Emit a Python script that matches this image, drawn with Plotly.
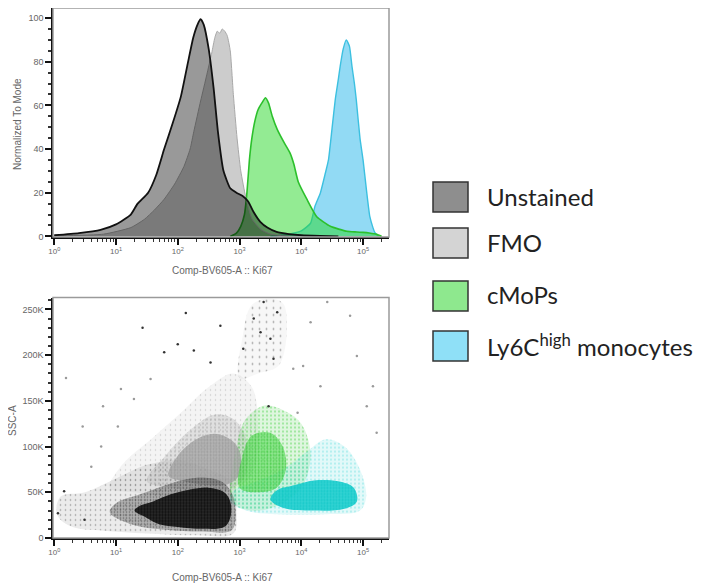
import plotly.graph_objects as go

# page body adds an 8px margin, so the figure is drawn 8px smaller and offset
PAGE_W, PAGE_H, BODY_M = 703, 588, 8
W, H = PAGE_W - BODY_M, PAGE_H - BODY_M

# ---------------- Histogram data (log10 intensity, % of mode) ----------------
UNST_LOG = [0.0, 0.4, 0.75, 1.0, 1.24, 1.35, 1.52, 1.65, 1.78, 1.92, 2.05, 2.16, 2.25, 2.32, 2.37,
            2.42, 2.5, 2.58, 2.65, 2.74, 2.85, 2.95, 3.05, 3.14, 3.23, 3.34, 3.45, 3.6, 3.8, 4.0, 4.3, 4.6]
UNST_PCT = [0.5, 1.5, 3.0, 5.5, 10, 15, 20, 28, 40, 52, 64, 79, 91, 97, 99.5,
            97, 86, 68, 48, 30, 22, 20, 18.5, 16, 11, 6.5, 4, 2, 1, 0.5, 0.2, 0]

FMO_LOG = [0.0, 0.8, 1.24, 1.46, 1.62, 1.78, 1.95, 2.1, 2.2, 2.26, 2.37, 2.47, 2.55, 2.6, 2.64,
           2.68, 2.72, 2.76, 2.8, 2.85, 2.9, 2.96, 3.02, 3.1, 3.2, 3.35, 3.5, 3.8]
FMO_PCT = [0.2, 1, 4, 7.8, 12, 17, 24, 32, 40, 48, 62, 74, 84, 91, 94,
           93, 95, 94, 92, 85, 65, 45, 30, 18, 8, 3, 1, 0]

CMOP_LOG = [2.85, 2.95, 3.02, 3.08, 3.12, 3.16, 3.2, 3.25, 3.3, 3.36, 3.42, 3.47, 3.53, 3.61, 3.72,
            3.82, 3.88, 3.95, 4.09, 4.25, 4.47, 4.74, 4.9, 5.0, 5.1, 5.22, 5.3]
CMOP_PCT = [0, 1.5, 4.6, 10, 20, 35, 45, 53, 58, 61, 63.5, 61, 55, 49, 43,
            38, 33, 25, 17, 9, 4.6, 2.3, 2, 1.8, 1.5, 0.9, 0]

LY6C_LOG = [3.5, 3.8, 4.0, 4.15, 4.22, 4.31, 4.39, 4.44, 4.5, 4.55, 4.6, 4.63, 4.68, 4.73, 4.78,
            4.82, 4.86, 4.89, 4.95, 5.0, 5.06, 5.11, 5.16, 5.19, 5.25]
LY6C_PCT = [0, 1, 2.5, 6, 13.7, 20, 29, 35, 50, 62.6, 72, 78, 86, 90, 87,
            78, 70, 62.6, 45, 35, 20, 9, 4, 1.8, 0]

# ---------------- Dot-plot density regions (log10 Ki67, SSC-A in K) ----------------
UNST_HALO_LOG = [0.05, 0.3, 0.8, 1.5, 2.3, 2.9, 2.95, 2.9, 2.5, 2.0, 1.5, 1.0, 0.5, 0.1]
UNST_HALO_SSC = [25, 12, 8, 5, 3, 5, 30, 60, 75, 85, 80, 65, 50, 45]
UNST_MID_LOG = [0.9, 1.3, 1.8, 2.4, 2.88, 2.9, 2.7, 2.3, 1.9, 1.4, 1.0]
UNST_MID_SSC = [28, 14, 9, 7, 9, 45, 62, 66, 60, 48, 38]
UNST_CORE_LOG = [1.3, 1.5, 1.7, 2.0, 2.4, 2.75, 2.85, 2.85, 2.75, 2.5, 2.2, 1.9, 1.6, 1.38]
UNST_CORE_SSC = [30, 22, 15, 12, 10, 12, 22, 40, 50, 55, 53, 48, 40, 35]

FMO_HALO_LOG = [0.9, 1.3, 2.0, 2.8, 3.2, 3.3, 3.2, 2.9, 2.5, 2.1, 1.6, 1.1]
FMO_HALO_SSC = [55, 50, 45, 50, 70, 120, 165, 180, 165, 140, 110, 80]
FMO_MID_LOG = [1.5, 1.9, 2.4, 2.9, 3.1, 3.1, 2.9, 2.6, 2.2, 1.8]
FMO_MID_SSC = [62, 55, 52, 55, 70, 110, 130, 135, 118, 90]
FMO_CORE_LOG = [1.85, 2.1, 2.45, 2.85, 3.0, 3.0, 2.85, 2.6, 2.3, 2.0]
FMO_CORE_SSC = [68, 62, 58, 60, 70, 95, 108, 114, 108, 90]
FMO_TOP_LOG = [3.0, 3.3, 3.65, 3.72, 3.5, 3.2, 3.05]
FMO_TOP_SSC = [175, 180, 190, 255, 262, 255, 220]

CMOP_HALO_LOG = [2.88, 3.2, 3.6, 4.0, 4.15, 4.0, 3.7, 3.4, 3.1, 2.95]
CMOP_HALO_SSC = [40, 30, 35, 55, 90, 125, 140, 145, 130, 100]
CMOP_CORE_LOG = [3.0, 3.3, 3.6, 3.75, 3.7, 3.5, 3.2, 3.05]
CMOP_CORE_SSC = [55, 50, 55, 75, 100, 115, 112, 90]

LY6C_HALO_LOG = [2.85, 3.1, 3.6, 4.4, 4.95, 5.05, 4.95, 4.7, 4.4, 4.1, 3.7, 3.2, 2.9]
LY6C_HALO_SSC = [40, 30, 26, 26, 30, 45, 75, 100, 108, 95, 75, 60, 52]
LY6C_CORE_LOG = [3.5, 3.7, 4.2, 4.7, 4.9, 4.85, 4.6, 4.2, 3.9, 3.6]
LY6C_CORE_SSC = [42, 33, 30, 32, 40, 55, 62, 63, 58, 52]

# scattered single events
OUT_DARK_LOG = [2.13, 1.43, 2.0, 1.78, 2.26, 2.53, 2.69, 3.39, 3.61, 3.34, 3.5, 3.23, 3.06, 3.55,
                0.16, 0.06, 0.49, 3.47]
OUT_DARK_SSC = [246, 230, 212, 203, 205, 192, 232, 258, 247, 225, 218, 240, 207, 196,
                51, 27, 20, 144]
OUT_LIGHT_LOG = [0.19, 1.08, 0.79, 0.46, 1.56, 1.29, 1.03, 0.76, 0.6, 4.15, 4.42, 4.79, 4.03,
                 3.87, 4.31, 4.9, 5.16, 5.22, 5.06, 3.94]
OUT_LIGHT_SSC = [175, 163, 144, 122, 174, 152, 122, 100, 78, 236, 258, 243, 188,
                 185, 166, 199, 166, 115, 144, 137]

# ---------------- Axis ticks ----------------
X_TICK_EXP = [0, 1, 2, 3, 4, 5]
Y1_TICKS = [0, 20, 40, 60, 80, 100]
Y2_TICKS = [0, 50000, 100000, 150000, 200000, 250000]
Y2_TICK_TEXT = ["0", "50K", "100K", "150K", "200K", "250K"]

LEGEND_NAMES = ["Unstained", "FMO", "cMoPs", "Ly6C<sup>high</sup> monocytes"]
LEGEND_COLORS = ["#8e8e8e", "#d4d4d4", "#8ee88e", "#8fe0f7"]


def lin(v):
    return [10 ** e for e in v]


def kk(v):
    return [s * 1000 for s in v]


fig = go.Figure()

# ---------- top: overlaid histograms ----------
hist_specs = [
    (LY6C_LOG, LY6C_PCT, "rgba(110,205,240,0.75)", "#3cc0e0", 1.4),
    (CMOP_LOG, CMOP_PCT, "rgba(40,215,40,0.5)", "#2cc02c", 1.6),
    (FMO_LOG, FMO_PCT, "rgba(0,0,0,0.2)", "#a8a8a8", 1.0),
    (UNST_LOG, UNST_PCT, "rgba(0,0,0,0.4)", "#111111", 1.8),
]
for lg, pc, fc, lc, lw in hist_specs:
    fig.add_trace(go.Scatter(x=lin(lg), y=pc, mode="lines", fill="tozeroy",
                             fillcolor=fc, line=dict(color=lc, width=lw, shape="spline", smoothing=0.5),
                             xaxis="x", yaxis="y", showlegend=False, hoverinfo="skip"))


# ---------- bottom: dot plot as density regions ----------
def region(lg, ssc, color, size, solidity, fillcolor):
    pat = dict(shape=".", fgcolor=color, size=size, solidity=solidity, fillmode="overlay")
    fig.add_trace(go.Scatter(x=lin(lg + lg[:1]), y=kk(ssc + ssc[:1]), mode="lines", fill="toself",
                             fillcolor=fillcolor, fillpattern=pat,
                             line=dict(width=0, color="rgba(0,0,0,0)", shape="spline", smoothing=1.0),
                             xaxis="x2", yaxis="y2", showlegend=False, hoverinfo="skip"))


region(FMO_HALO_LOG, FMO_HALO_SSC, "#9a9a9a", 5, 0.07, "rgba(150,150,150,0.10)")
region(FMO_TOP_LOG, FMO_TOP_SSC, "#444444", 7, 0.05, "rgba(120,120,120,0.06)")
region(UNST_HALO_LOG, UNST_HALO_SSC, "#333333", 5, 0.08, "rgba(60,60,60,0.10)")
region(FMO_MID_LOG, FMO_MID_SSC, "#9a9a9a", 4, 0.2, "rgba(160,160,160,0.25)")
region(CMOP_HALO_LOG, CMOP_HALO_SSC, "#3fcf3f", 4, 0.2, "rgba(90,210,90,0.2)")
region(LY6C_HALO_LOG, LY6C_HALO_SSC, "#2fd0d0", 4, 0.15, "rgba(60,210,210,0.15)")
region(FMO_CORE_LOG, FMO_CORE_SSC, "#8c8c8c", 3, 0.4, "rgba(165,165,165,0.75)")
region(UNST_MID_LOG, UNST_MID_SSC, "#202020", 3, 0.25, "rgba(40,40,40,0.3)")
region(CMOP_CORE_LOG, CMOP_CORE_SSC, "#22b022", 3, 0.35, "rgba(80,220,80,0.55)")
region(LY6C_CORE_LOG, LY6C_CORE_SSC, "#00c0c0", 3, 0.4, "rgba(20,205,205,0.85)")
region(UNST_CORE_LOG, UNST_CORE_SSC, "#000000", 3, 0.5, "rgba(20,20,20,0.85)")

fig.add_trace(go.Scatter(x=lin(OUT_LIGHT_LOG), y=kk(OUT_LIGHT_SSC), mode="markers",
                         marker=dict(size=2.5, color="#9a9a9a"), xaxis="x2", yaxis="y2",
                         showlegend=False, hoverinfo="skip"))
fig.add_trace(go.Scatter(x=lin(OUT_DARK_LOG), y=kk(OUT_DARK_SSC), mode="markers",
                         marker=dict(size=2.5, color="#333333"), xaxis="x2", yaxis="y2",
                         showlegend=False, hoverinfo="skip"))


# ---------- layout (positions given in page pixels) ----------
def px_x(p):
    return (p - BODY_M) / W


def px_y(p):
    return 1 - (p - BODY_M) / H


XDOM = [px_x(53), px_x(389)]
TOP_DOM = [px_y(237), px_y(8)]
BOT_DOM = [px_y(538), px_y(297.5)]

xtick_font = dict(family="Liberation Sans, Arial, sans-serif", size=8, color="#666666")
ytick_font = dict(family="Liberation Sans, Arial, sans-serif", size=9, color="#666666")
minor_x = [m * 10 ** e for e in X_TICK_EXP for m in range(2, 10) if m * 10 ** e < 10 ** 5.42]

xaxis_common = dict(type="log", range=[-0.02, 5.42], tickmode="array",
                    tickvals=[10 ** e for e in X_TICK_EXP],
                    ticktext=["10<sup>%d</sup>" % e for e in X_TICK_EXP],
                    ticks="outside", ticklen=6, tickwidth=1.5, tickcolor="#111",
                    showline=True, linecolor="#111", linewidth=1.5, automargin=False,
                    showgrid=False, zeroline=False, tickfont=xtick_font,
                    minor=dict(tickmode="array", tickvals=minor_x, ticks="outside",
                               ticklen=3, tickwidth=1, tickcolor="#333", showgrid=False),
                    domain=XDOM)
yaxis_common = dict(ticks="outside", ticklen=6, tickwidth=1.5, tickcolor="#111",
                    showline=True, linecolor="#111", linewidth=1.5, automargin=False,
                    showgrid=False, zeroline=False, tickfont=ytick_font)

fig.update_layout(
    width=W, height=H, margin=dict(l=0, r=0, t=0, b=0, pad=0, autoexpand=False),
    paper_bgcolor="white", plot_bgcolor="white",
    xaxis=dict(anchor="y", **xaxis_common),
    yaxis=dict(anchor="x", domain=TOP_DOM, range=[-0.3, 104.6], tickmode="array",
               tickvals=Y1_TICKS, minor=dict(dtick=5, ticks="outside", ticklen=3, tickcolor="#333"),
               **yaxis_common),
    xaxis2=dict(anchor="y2", **xaxis_common),
    yaxis2=dict(anchor="x2", domain=BOT_DOM, range=[0, 263000], tickmode="array",
                tickvals=Y2_TICKS, ticktext=Y2_TICK_TEXT,
                minor=dict(dtick=10000, ticks="outside", ticklen=3, tickcolor="#333"),
                **yaxis_common),
)

# gray frames around plot areas
for xr, yr in (("x domain", "y domain"), ("x2 domain", "y2 domain")):
    fig.add_shape(type="rect", xref=xr, yref=yr, x0=0, x1=1, y0=0, y1=1,
                  line=dict(color="#9a9a9a", width=1.5), layer="above")

title_font = dict(family="Liberation Sans, Arial, sans-serif", size=10, color="#666666")
fig.add_annotation(text="Normalized To Mode", x=px_x(18), y=px_y(124), xref="paper", yref="paper",
                   xanchor="center", yanchor="middle", textangle=-90, showarrow=False,
                   font=title_font)
fig.add_annotation(text="SSC-A", x=px_x(12), y=px_y(421), xref="paper", yref="paper",
                   xanchor="center", yanchor="middle", textangle=-90, showarrow=False,
                   font=title_font)
for ty in (270, 577):
    fig.add_annotation(text="Comp-BV605-A :: Ki67", x=px_x(222), y=px_y(ty), xref="paper",
                       yref="paper", xanchor="center", yanchor="middle", showarrow=False,
                       font=title_font)

# legend
BOX_TOPS = [182, 228, 281, 331]
for name, col, top in zip(LEGEND_NAMES, LEGEND_COLORS, BOX_TOPS):
    fig.add_shape(type="rect", xref="paper", yref="paper", x0=px_x(433), x1=px_x(468),
                  y0=px_y(top + 30), y1=px_y(top), fillcolor=col,
                  line=dict(color="#333333", width=1.5))
    fig.add_annotation(text=name, x=px_x(485), y=px_y(top + 14), xref="paper", yref="paper",
                       xanchor="left", yanchor="middle", showarrow=False,
                       font=dict(family="Lato, Open Sans, sans-serif", size=24, color="#222222"))

fig.write_html("out.html")
